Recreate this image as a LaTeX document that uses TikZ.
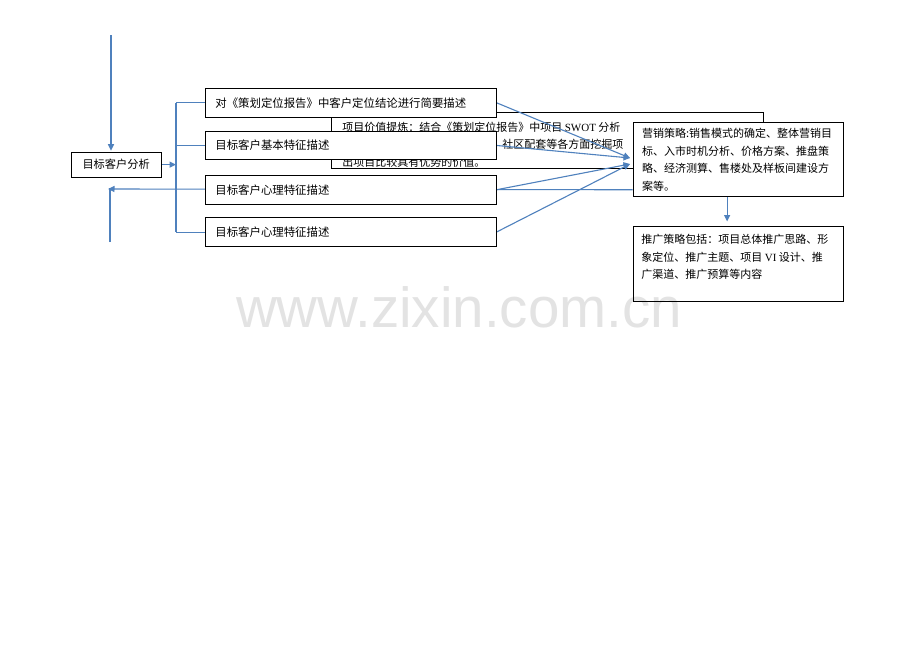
\documentclass[tikz,border=0pt]{standalone}
\usepackage{fontspec}
\setmainfont{Noto Sans CJK SC}
\newfontfamily\latserif{Liberation Serif}
\newfontfamily\wmfont{Liberation Sans}
\usetikzlibrary{arrows.meta}
\pgfdeclarelayer{bglayer}
\pgfdeclarelayer{midlayer}
\pgfsetlayers{bglayer,midlayer,main}
\definecolor{linkblue}{RGB}{79,129,189}
\tikzset{
  box/.style={draw=black, line width=0.8pt, fill=white, inner sep=0pt, anchor=north west},
  onebox/.style={box, minimum width=290.7pt, minimum height=28.7pt, text width=270.7pt,
    inner xsep=10pt, align=left, font=\fontsize{11.4}{13}\selectfont},
  linkline/.style={draw=linkblue, line width=1.1pt},
  link/.style={linkline, -{Triangle[length=6.5pt,width=6pt]}},
}
\begin{document}
\begin{tikzpicture}[x=1pt,y=-1pt]
\useasboundingbox (0,0) rectangle (920,651);
\begin{pgfonlayer}{bglayer}
  \fill[white] (0,0) rectangle (920,651);
  \node[font=\wmfont\fontsize{56.5}{60}\selectfont, text=black!11, anchor=base, inner sep=0pt]
    (wm) at (459,327) {www.zixin.com.cn};
  \node[box, fill=none] (val) at (331,112.3) {\parbox[c][55.7pt][t]{432pt}{%
    \setlength{\leftskip}{11pt}\fontsize{11}{17.6}\selectfont\vspace*{6.3pt}%
    \strut 项目价值提炼：结合《策划定位报告》中项目 {\latserif SWOT} 分析\\
    \hspace*{160pt}社区配套等各方面挖掘项\\
    出项目比较具有优势的价值。\par}};
\end{pgfonlayer}

\node[box, minimum width=90pt, minimum height=25pt, font=\fontsize{11.2}{13}\selectfont]
  (root) at (70.7,151.7) {目标客户分析};
\node[onebox] (A) at (205,88) {对《策划定位报告》中客户定位结论进行简要描述};
\node[onebox] (B) at (205,130.7) {目标客户基本特征描述};
\node[onebox] (C) at (205,175) {目标客户心理特征描述};
\node[onebox] (D) at (205,217.3) {目标客户心理特征描述};

\node[box] (mkt) at (632.7,121.7) {\parbox[c][74.3pt][t]{210.6pt}{%
  \setlength{\leftskip}{9pt}\fontsize{11}{17.6}\selectfont\vspace*{3.2pt}%
  \strut 营销策略:销售模式的确定、整体营销目\\
  标、入市时机分析、价格方案、推盘策\\
  略、经济测算、售楼处及样板间建设方\\
  案等。\par}};
\node[box, fill=none] (promo) at (632.7,226) {\parbox[c][75pt][t]{210.6pt}{%
  \setlength{\leftskip}{8.3pt}\fontsize{11}{17.4}\selectfont\vspace*{5.2pt}%
  \strut 推广策略包括：项目总体推广思路、形\\
  象定位、推广主题、项目 {\latserif VI} 设计、推\\
  广渠道、推广预算等内容\par}};

\coordinate (topStart) at (111,35);
\coordinate (brk) at (176,165);
\coordinate (leftTip) at (108,189);
\coordinate (botEnd) at (110,242);
\coordinate (t1) at (630,158);
\coordinate (t2) at (630,164);

\begin{pgfonlayer}{midlayer}
  \draw[link, shorten >=1pt] (topStart) -- (topStart |- root.north);
  \draw[link] (root.east) -- (root.east -| brk);
  \draw[linkline] (brk |- A.west) -- (brk |- D.west);
  \draw[linkline] (brk |- A.west) -- (A.west);
  \draw[linkline] (brk |- B.west) -- (B.west);
  \draw[linkline] (brk |- D.west) -- (D.west);
  \draw[link] (mkt.west |- C.east) -- (leftTip);
  \draw[linkline] (botEnd) -- ([yshift=1pt]botEnd |- leftTip);
  \draw[link] (A.east) -- (t1);
  \draw[link] (B.east) -- (t1);
  \draw[link] (C.east) -- (t2);
  \draw[link] (D.east) -- (t2);
  \draw[link, shorten >=4.5pt] ([xshift=-11.3pt]mkt.south) -- ([xshift=-11.3pt]promo.north);
\end{pgfonlayer}
\end{tikzpicture}
\end{document}
